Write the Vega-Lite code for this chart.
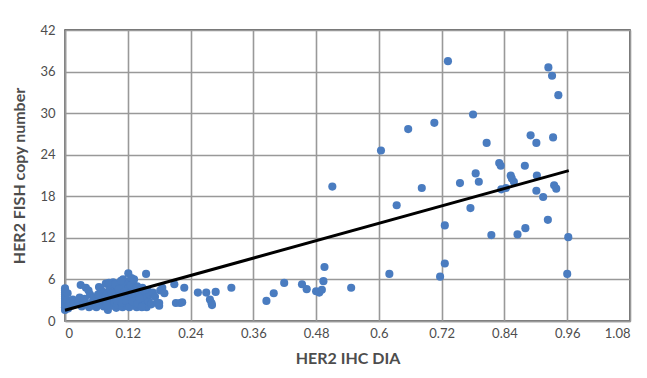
{
  "$schema": "https://vega.github.io/schema/vega-lite/v6.json",
  "autosize": "none",
  "width": 565,
  "height": 291,
  "padding": {"left": 65, "top": 30, "right": 17, "bottom": 57},
  "background": "white",
  "config": {
    "view": {"stroke": "#404040", "strokeWidth": 1.5},
    "font": "Lato",
    "axis": {
      "labelFont": "Lato",
      "labelFontSize": 13,
      "labelColor": "#4d4d4d",
      "titleFont": "Lato",
      "titleFontSize": 16,
      "titleFontWeight": "bold",
      "titleColor": "#4d4d4d",
      "gridColor": "#999999",
      "gridWidth": 1.6,
      "gridOpacity": 1,
      "domainColor": "#999999",
      "domainWidth": 1.6,
      "ticks": false
    }
  },
  "layer": [
    {
      "data": {
        "values": [
          {"x": 0, "y": 1.6}, {"x": 0, "y": 2.0}, {"x": 0, "y": 2.3}, {"x": 0, "y": 2.6}, {"x": 0, "y": 2.9},
          {"x": 0, "y": 3.2}, {"x": 0, "y": 3.5}, {"x": 0, "y": 3.8}, {"x": 0, "y": 4.1}, {"x": 0, "y": 4.4},
          {"x": 0, "y": 4.7}, {"x": 0.003, "y": 2.1}, {"x": 0.004, "y": 3.0}, {"x": 0.005, "y": 4.0}, {"x": 0.006, "y": 1.8},
          {"x": 0.008, "y": 2.5}, {"x": 0.01, "y": 2.8}, {"x": 0.012, "y": 2.2}, {"x": 0.015, "y": 3.1}, {"x": 0.018, "y": 2.4},
          {"x": 0.025, "y": 2.6}, {"x": 0.03, "y": 5.2}, {"x": 0.032, "y": 2.1}, {"x": 0.035, "y": 2.9}, {"x": 0.04, "y": 4.8},
          {"x": 0.042, "y": 2.4}, {"x": 0.045, "y": 4.4}, {"x": 0.048, "y": 3.8}, {"x": 0.05, "y": 2.2}, {"x": 0.052, "y": 2.7},
          {"x": 0.055, "y": 3.3}, {"x": 0.058, "y": 2.5}, {"x": 0.06, "y": 2.0}, {"x": 0.062, "y": 3.0}, {"x": 0.065, "y": 4.9},
          {"x": 0.067, "y": 2.4}, {"x": 0.07, "y": 3.6}, {"x": 0.072, "y": 4.2}, {"x": 0.074, "y": 2.1}, {"x": 0.076, "y": 2.8},
          {"x": 0.078, "y": 5.4}, {"x": 0.08, "y": 3.9}, {"x": 0.082, "y": 1.6}, {"x": 0.083, "y": 2.5}, {"x": 0.085, "y": 4.6},
          {"x": 0.086, "y": 3.2}, {"x": 0.088, "y": 5.1}, {"x": 0.09, "y": 2.2}, {"x": 0.091, "y": 3.7}, {"x": 0.092, "y": 5.6},
          {"x": 0.094, "y": 4.3}, {"x": 0.095, "y": 2.7}, {"x": 0.097, "y": 3.4}, {"x": 0.098, "y": 1.9}, {"x": 0.1, "y": 4.9},
          {"x": 0.101, "y": 2.4}, {"x": 0.102, "y": 3.1}, {"x": 0.104, "y": 5.5}, {"x": 0.105, "y": 4.1}, {"x": 0.106, "y": 2.8},
          {"x": 0.108, "y": 3.6}, {"x": 0.11, "y": 2.0}, {"x": 0.111, "y": 6.0}, {"x": 0.112, "y": 4.5}, {"x": 0.113, "y": 3.2},
          {"x": 0.115, "y": 2.5}, {"x": 0.116, "y": 5.2}, {"x": 0.118, "y": 3.9}, {"x": 0.119, "y": 2.2}, {"x": 0.121, "y": 6.9},
          {"x": 0.121, "y": 4.7}, {"x": 0.122, "y": 3.0}, {"x": 0.124, "y": 5.8}, {"x": 0.125, "y": 2.6}, {"x": 0.127, "y": 6.2},
          {"x": 0.127, "y": 4.0}, {"x": 0.128, "y": 3.4}, {"x": 0.13, "y": 5.6}, {"x": 0.131, "y": 2.3}, {"x": 0.133, "y": 4.4},
          {"x": 0.135, "y": 3.7}, {"x": 0.137, "y": 2.0}, {"x": 0.138, "y": 5.0}, {"x": 0.14, "y": 3.0}, {"x": 0.142, "y": 4.2},
          {"x": 0.144, "y": 2.6}, {"x": 0.146, "y": 3.6}, {"x": 0.148, "y": 4.8}, {"x": 0.15, "y": 2.2}, {"x": 0.151, "y": 3.9},
          {"x": 0.155, "y": 6.8}, {"x": 0.154, "y": 3.3}, {"x": 0.156, "y": 2.0}, {"x": 0.158, "y": 4.4}, {"x": 0.16, "y": 2.8},
          {"x": 0.162, "y": 3.8}, {"x": 0.165, "y": 2.4}, {"x": 0.168, "y": 4.1}, {"x": 0.172, "y": 3.5}, {"x": 0.176, "y": 2.6},
          {"x": 0.18, "y": 2.2}, {"x": 0.182, "y": 4.4}, {"x": 0.186, "y": 4.8}, {"x": 0.19, "y": 4.0}, {"x": 0.18, "y": 2.6},
          {"x": 0.068, "y": 4.6}, {"x": 0.075, "y": 3.3}, {"x": 0.084, "y": 5.5}, {"x": 0.089, "y": 4.0}, {"x": 0.096, "y": 5.3},
          {"x": 0.099, "y": 3.0}, {"x": 0.103, "y": 4.6}, {"x": 0.107, "y": 5.8}, {"x": 0.109, "y": 2.6}, {"x": 0.114, "y": 4.2},
          {"x": 0.117, "y": 2.9}, {"x": 0.123, "y": 2.0}, {"x": 0.126, "y": 5.1}, {"x": 0.129, "y": 2.8}, {"x": 0.132, "y": 6.0},
          {"x": 0.136, "y": 4.7}, {"x": 0.139, "y": 2.5}, {"x": 0.143, "y": 3.3}, {"x": 0.147, "y": 2.0}, {"x": 0.152, "y": 4.5},
          {"x": 0.028, "y": 3.4}, {"x": 0.038, "y": 3.2}, {"x": 0.046, "y": 2.0}, {"x": 0.063, "y": 3.8}, {"x": 0.079, "y": 2.3},
          {"x": 0.209, "y": 5.3}, {"x": 0.212, "y": 2.6}, {"x": 0.22, "y": 2.6}, {"x": 0.224, "y": 2.7}, {"x": 0.228, "y": 4.8},
          {"x": 0.254, "y": 4.1}, {"x": 0.27, "y": 4.1}, {"x": 0.288, "y": 4.2}, {"x": 0.277, "y": 3.1}, {"x": 0.28, "y": 2.6},
          {"x": 0.281, "y": 2.3}, {"x": 0.318, "y": 4.8}, {"x": 0.385, "y": 2.9}, {"x": 0.399, "y": 4.0}, {"x": 0.419, "y": 5.5},
          {"x": 0.453, "y": 5.3}, {"x": 0.462, "y": 4.6}, {"x": 0.48, "y": 4.3}, {"x": 0.486, "y": 4.1}, {"x": 0.491, "y": 4.5},
          {"x": 0.494, "y": 5.75}, {"x": 0.496, "y": 7.8}, {"x": 0.547, "y": 4.8}, {"x": 0.511, "y": 19.4}, {"x": 0.604, "y": 24.6},
          {"x": 0.62, "y": 6.8}, {"x": 0.634, "y": 16.7}, {"x": 0.656, "y": 27.7}, {"x": 0.682, "y": 19.2}, {"x": 0.706, "y": 28.6},
          {"x": 0.717, "y": 6.4}, {"x": 0.726, "y": 13.8}, {"x": 0.726, "y": 8.3}, {"x": 0.732, "y": 37.5}, {"x": 0.755, "y": 19.9},
          {"x": 0.775, "y": 16.3}, {"x": 0.78, "y": 29.8}, {"x": 0.785, "y": 21.3}, {"x": 0.791, "y": 20.1}, {"x": 0.806, "y": 25.7},
          {"x": 0.815, "y": 12.4}, {"x": 0.83, "y": 22.8}, {"x": 0.833, "y": 22.4}, {"x": 0.834, "y": 19.0}, {"x": 0.843, "y": 19.2},
          {"x": 0.852, "y": 21.0}, {"x": 0.854, "y": 20.6}, {"x": 0.858, "y": 20.1}, {"x": 0.865, "y": 12.5}, {"x": 0.879, "y": 22.4},
          {"x": 0.88, "y": 13.4}, {"x": 0.89, "y": 26.8}, {"x": 0.901, "y": 25.7}, {"x": 0.902, "y": 21.0}, {"x": 0.901, "y": 18.8},
          {"x": 0.914, "y": 17.9}, {"x": 0.923, "y": 14.6}, {"x": 0.924, "y": 36.6}, {"x": 0.931, "y": 35.4}, {"x": 0.933, "y": 26.5},
          {"x": 0.935, "y": 19.6}, {"x": 0.939, "y": 19.1}, {"x": 0.943, "y": 32.6}, {"x": 0.962, "y": 12.1}, {"x": 0.96, "y": 6.8}
        ]
      },
      "mark": {"type": "circle", "size": 66, "opacity": 1, "color": "#4a7cc0"},
      "encoding": {
        "x": {
          "field": "x", "type": "quantitative",
          "scale": {"domain": [0, 1.08], "nice": false},
          "axis": {"values": [0, 0.12, 0.24, 0.36, 0.48, 0.6, 0.72, 0.84, 0.96, 1.08], "format": ".2~f", "title": "HER2 IHC DIA", "labelPadding": 6, "titlePadding": 10}
        },
        "y": {
          "field": "y", "type": "quantitative",
          "scale": {"domain": [0, 42], "nice": false},
          "axis": {"values": [0, 6, 12, 18, 24, 30, 36, 42], "title": "HER2 FISH copy number", "labelPadding": 10, "titlePadding": 12}
        }
      }
    },
    {
      "data": {"values": [{"x": 0, "y": 1.55}, {"x": 0.963, "y": 21.7}]},
      "mark": {"type": "line", "color": "black", "strokeWidth": 3},
      "encoding": {
        "x": {"field": "x", "type": "quantitative"},
        "y": {"field": "y", "type": "quantitative"}
      }
    }
  ]
}
